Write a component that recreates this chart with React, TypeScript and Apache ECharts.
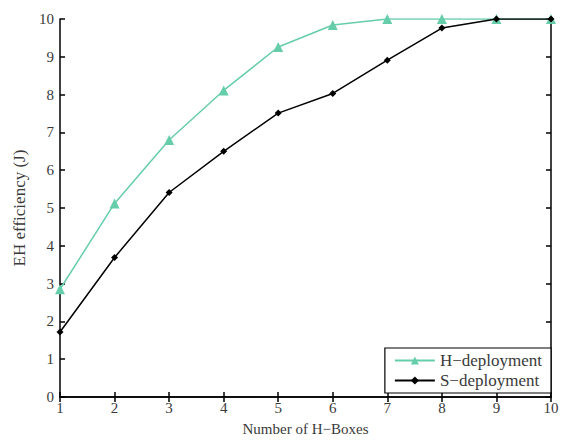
import React, { useEffect, useRef } from "react";
import * as echarts from "echarts";

const xCategories = [1, 2, 3, 4, 5, 6, 7, 8, 9, 10];
const hDeployment = [2.85, 5.12, 6.8, 8.11, 9.26, 9.84, 10, 10, 10, 10];
const sDeployment = [1.72, 3.69, 5.41, 6.5, 7.51, 8.03, 8.91, 9.76, 10, 10];
const seriesNames = ["H\u2212deployment", "S\u2212deployment"];

const FONT = "Liberation Serif";
const TXT = "#3a3a3a";

export default function App() {
  const ref = useRef<HTMLDivElement>(null);
  useEffect(() => {
    if (!ref.current) return;
    const chart = echarts.init(ref.current, undefined, { renderer: "svg" });
    const axisLine = { show: true, lineStyle: { color: "#000", width: 1.5 } };
    const tick = { show: true, inside: true, length: 5, lineStyle: { color: "#000", width: 1.5 } };
    chart.setOption({
      animation: false,
      backgroundColor: "#fff",
      textStyle: { fontFamily: FONT },
      grid: { left: 60, right: 16, top: 19, bottom: 38 },
      legend: {
        orient: "vertical",
        right: 16,
        bottom: 48,
        backgroundColor: "#fff",
        borderColor: "#000",
        borderWidth: 1.2,
        borderRadius: 0,
        padding: [4, 9, 4, 9],
        itemGap: 3,
        itemWidth: 40,
        itemHeight: 10,
        textStyle: { fontFamily: FONT, fontSize: 17, color: TXT },
        data: seriesNames,
      },
      xAxis: [
        {
          type: "value",
          min: 1,
          max: 10,
          interval: 1,
          name: "Number of H\u2212Boxes",
          nameLocation: "middle",
          nameGap: 24,
          nameTextStyle: { fontFamily: FONT, fontSize: 15, color: TXT },
          axisLine,
          axisTick: tick,
          axisLabel: { fontFamily: FONT, fontSize: 15, color: TXT, margin: 3 },
          splitLine: { show: false },
        },
        {
          type: "value",
          position: "top",
          min: 1,
          max: 10,
          interval: 1,
          axisLine,
          axisTick: tick,
          axisLabel: { show: false },
          splitLine: { show: false },
        },
      ],
      yAxis: [
        {
          type: "value",
          min: 0,
          max: 10,
          interval: 1,
          name: "EH efficiency (J)",
          nameLocation: "middle",
          nameGap: 27,
          nameTextStyle: { fontFamily: FONT, fontSize: 17, color: TXT },
          axisLine,
          axisTick: tick,
          axisLabel: { fontFamily: FONT, fontSize: 15, color: TXT, margin: 6 },
          splitLine: { show: false },
        },
        {
          type: "value",
          position: "right",
          min: 0,
          max: 10,
          interval: 1,
          axisLine,
          axisTick: tick,
          axisLabel: { show: false },
          splitLine: { show: false },
        },
      ],
      series: [
        {
          name: seriesNames[0],
          type: "line",
          data: xCategories.map((x, i) => [x, hDeployment[i]]),
          symbol: "triangle",
          symbolSize: 10,
          lineStyle: { color: "#66CDAA", width: 1.5 },
          itemStyle: { color: "#66CDAA" },
          z: 3,
        },
        {
          name: seriesNames[1],
          type: "line",
          data: xCategories.map((x, i) => [x, sDeployment[i]]),
          symbol: "diamond",
          symbolSize: 7,
          lineStyle: { color: "#000", width: 1.5 },
          itemStyle: { color: "#000" },
          z: 4,
        },
      ],
    });
    return () => chart.dispose();
  }, []);
  return (
    <div
      ref={ref}
      style={{ position: "absolute", left: 0, top: 0, width: 567, height: 441 }}
    />
  );
}
